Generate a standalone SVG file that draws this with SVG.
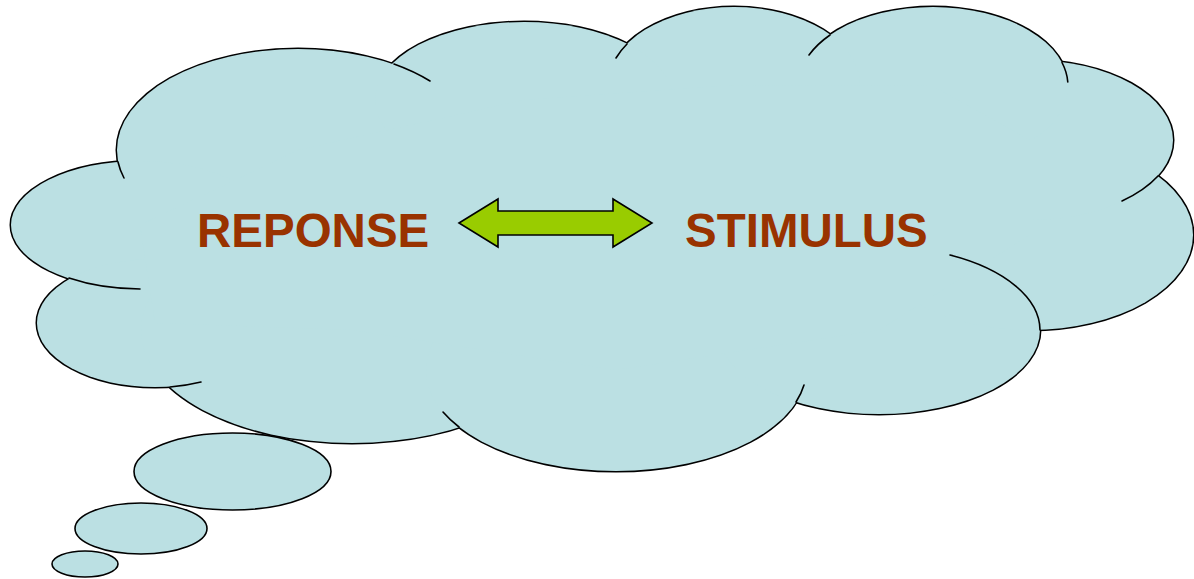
<svg xmlns="http://www.w3.org/2000/svg" width="1194" height="579" viewBox="0 0 1194 579">
  <defs>
    <style>
      .lobe-out { fill: #000; stroke: #000; stroke-width: 3; }
      .lobe-in { fill: #BBE0E3; stroke: none; }
      .crease { fill: none; stroke: #000; stroke-width: 1.6; stroke-linecap: round; }
      .bubble { fill: #BBE0E3; stroke: #000; stroke-width: 1.6; }
      .label { font-family: "Liberation Sans", Arial, sans-serif; font-weight: bold; font-size: 47.5px; fill: #993300; }
      .arrow { fill: #99CC00; stroke: #000; stroke-width: 1.6; stroke-linejoin: miter; }
    </style>
    <g id="lobes">
      <ellipse cx="298" cy="150" rx="181" ry="101"/>
      <ellipse cx="140" cy="225" rx="129" ry="64"/>
      <ellipse cx="155" cy="323" rx="118" ry="64"/>
      <ellipse cx="352" cy="330" rx="211" ry="113"/>
      <ellipse cx="616" cy="370" rx="190" ry="101"/>
      <ellipse cx="879" cy="330" rx="161" ry="84"/>
      <ellipse cx="1030" cy="235" rx="163" ry="95"/>
      <ellipse cx="1030" cy="140" rx="143" ry="80"/>
      <ellipse cx="933" cy="86" rx="135" ry="79"/>
      <ellipse cx="734" cy="85" rx="126" ry="78"/>
      <ellipse cx="524" cy="100" rx="149" ry="78"/>
    </g>
  </defs>
  <rect width="1194" height="579" fill="#FFFFFF"/>
  <g id="cloud">
    <use href="#lobes" class="lobe-out"/>
    <use href="#lobes" class="lobe-in"/>
    <polygon class="lobe-in" points="298,150 524,100 734,85 933,86 1030,140 1030,235 879,330 616,370 352,330 155,323 140,225"/>
    <path class="crease" d="M 118 162 A 181 101 0 0 0 124 178"/>
    <path class="crease" d="M 394 64 A 181 101 0 0 1 430 81"/>
    <path class="crease" d="M 69 278 A 129 64 0 0 0 140 289"/>
    <path class="crease" d="M 170 387 A 118 64 0 0 0 201 382"/>
    <path class="crease" d="M 443 412 A 190 101 0 0 0 459 427"/>
    <path class="crease" d="M 796 402 A 190 101 0 0 0 804 385"/>
    <path class="crease" d="M 1040 330 A 161 84 0 0 0 950 255"/>
    <path class="crease" d="M 1158 176 A 143 80 0 0 1 1122 201"/>
    <path class="crease" d="M 1062 62.5 A 135 79 0 0 1 1067.8 82"/>
    <path class="crease" d="M 830 35 A 135 79 0 0 0 809 55"/>
    <path class="crease" d="M 627 44 A 126 78 0 0 0 616 58"/>
  </g>
  <g id="bubbles">
    <ellipse id="bubble-1" class="bubble" cx="232.5" cy="471.5" rx="98.5" ry="38.5"/>
    <ellipse id="bubble-2" class="bubble" cx="141" cy="528.5" rx="66" ry="25.5"/>
    <ellipse id="bubble-3" class="bubble" cx="85" cy="564" rx="33" ry="13"/>
  </g>
  <g id="node-reponse">
    <text class="label" x="197" y="247">REPONSE</text>
  </g>
  <g id="node-stimulus">
    <text class="label" x="685" y="247">STIMULUS</text>
  </g>
  <g id="connectors">
    <polygon class="arrow" points="459,223 498,199 498,211 613,211 613,199 652,223 613,247 613,235 498,235 498,247"/>
  </g>
</svg>
